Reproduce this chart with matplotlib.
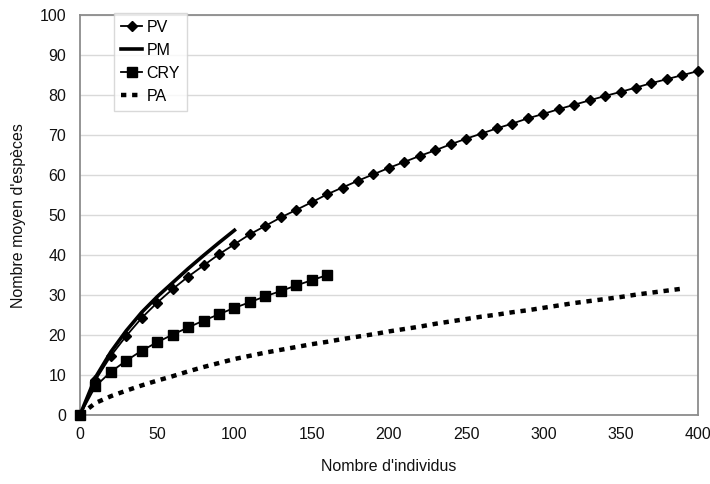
import numpy as np
import matplotlib
matplotlib.use("Agg")
import matplotlib.pyplot as plt

## ================================== ##
##  Courbes de raréfaction (lues)     ##
## ================================== ##

plt.rcParams['font.family'] = ['Liberation Sans', 'DejaVu Sans']

# PV : losanges tous les 10 individus, de 0 a 400
pv_x = list(range(0, 401, 10))
pv_y = [0, 8.7, 14.8, 19.8, 24.3, 28.1, 31.5, 34.6, 37.4, 40.2,
        42.7, 45.2, 47.3, 49.4, 51.3, 53.2, 55.2, 56.9, 58.6, 60.2,
        61.8, 63.3, 64.8, 66.2, 67.7, 69.1, 70.4, 71.7, 72.9, 74.2,
        75.3, 76.5, 77.6, 78.7, 79.8, 80.8, 81.9, 83.0, 84.0, 85.0,
        86.0]

# PM : trait plein epais, de 0 a 100
pm_x = list(range(0, 101, 10))
pm_y = [0, 9.4, 15.8, 21.1, 25.7, 29.6, 33.1, 36.6, 39.9, 43.1, 46.2]

# CRY : carres tous les 10 individus, de 0 a 160
cry_x = list(range(0, 161, 10))
cry_y = [0, 7.2, 10.8, 13.6, 16.1, 18.2, 20.1, 21.9, 23.6, 25.2,
         26.8, 28.2, 29.7, 31.0, 32.4, 33.7, 35.0]

# PA : pointilles epais, de 0 a 390
pa_x = list(range(0, 391, 10))
pa_y = [0, 3.0, 4.7, 6.1, 7.4, 8.6, 9.7, 10.9, 12.0, 13.0,
        14.0, 14.8, 15.6, 16.3, 17.0, 17.7, 18.3, 19.0, 19.6, 20.2,
        20.9, 21.5, 22.1, 22.8, 23.4, 24.0, 24.6, 25.1, 25.7, 26.2,
        26.8, 27.4, 28.0, 28.5, 29.0, 29.5, 30.1, 30.6, 31.1, 31.6]

x_ticks = list(range(0, 401, 50))
y_ticks = list(range(0, 101, 10))

fig = plt.figure(figsize=(7.1, 4.84), dpi=100)
ax = fig.add_axes([0.1127, 0.1426, 0.870, 0.826])

ax.plot(pv_x, pv_y, color='black', lw=1.3, marker='D', ms=5.5,
        mfc='black', mec='black', label='PV', clip_on=False, zorder=3)
ax.plot(pm_x, pm_y, color='black', lw=2.6, label='PM', zorder=4)
ax.plot(cry_x, cry_y, color='black', lw=1.3, marker='s', ms=7,
        mfc='black', mec='black', label='CRY', clip_on=False, zorder=3)
ax.plot(pa_x, pa_y, color='black', lw=3.2, linestyle=(0, (1.2, 1.3)),
        dash_capstyle='butt', label='PA', zorder=3)

ax.set_xlim(0, 400)
ax.set_ylim(0, 100)
ax.set_xticks(x_ticks)
ax.set_yticks(y_ticks)
ax.tick_params(length=0, labelsize=11.5, colors='#111111', pad=9)
ax.tick_params(axis='y', pad=10)

ax.grid(axis='y', color='#d9d9d9', lw=1)
ax.set_axisbelow(True)
for s in ax.spines.values():
    s.set_color('#8c8c8c')
    s.set_linewidth(1.3)

ax.set_xlabel("Nombre d'individus", fontsize=11.5, color='#111111', labelpad=12)
ax.set_ylabel("Nombre moyen d'espèces", fontsize=11.5, color='#111111', labelpad=10)

leg = ax.legend(loc='upper left', bbox_to_anchor=(0.055, 1.006), fontsize=11.5,
                frameon=True, fancybox=False, handlelength=1.3, handletextpad=0.3,
                labelspacing=0.5, borderpad=0.45, borderaxespad=0)
leg.get_frame().set_edgecolor('#d0d0d0')
leg.get_frame().set_linewidth(1)
leg.set_zorder(5)

plt.savefig('out.png', dpi=100)
